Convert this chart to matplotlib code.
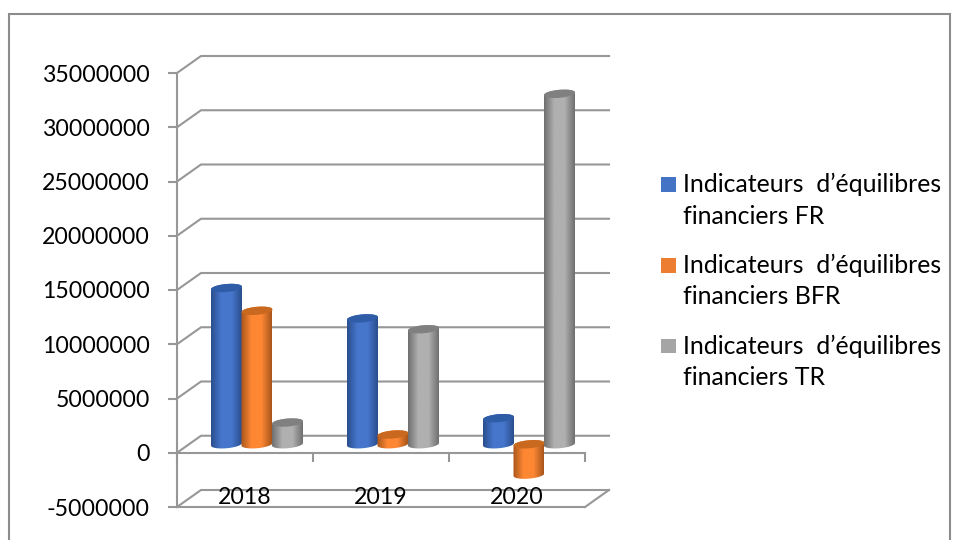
import numpy as np
import matplotlib
matplotlib.use("Agg")
import matplotlib.pyplot as plt
from matplotlib.colors import LinearSegmentedColormap
from matplotlib.patches import Rectangle, Patch, Polygon
from matplotlib.legend_handler import HandlerPatch

W, H = 954, 540

years = ["2018", "2019", "2020"]
series_names = ["Indicateurs  d’équilibres\nfinanciers FR",
                "Indicateurs  d’équilibres\nfinanciers BFR",
                "Indicateurs  d’équilibres\nfinanciers TR"]
fr = [14400000, 11600000, 2400000]
bfr = [12300000, 900000, -2800000]
tr = [2000000, 10600000, 32300000]
y_ticks = [-5000000, 0, 5000000, 10000000, 15000000, 20000000, 25000000, 30000000, 35000000]

# edge, centre, cap
blue = ["#2b4f8e", "#4676cc", "#2f5ca6"]
orange = ["#a9561b", "#fd8733", "#c8691f"]
gray = ["#707070", "#b0b0b0", "#808080"]
legend_colors = ["#4472c4", "#ed7d31", "#a5a5a5"]
LINE = "#979797"

plt.rcParams["font.family"] = ["Lato", "DejaVu Sans"]

fig = plt.figure(figsize=(W / 100, H / 100), dpi=100)
ax = fig.add_axes([177 / W, (H - 507) / H, (585 - 177) / W, (507 - 73) / H])
ax.set_xlim(0, 3)
ax.set_ylim(-5000000, 35000000)

px_x = 3 / (585 - 177)
px_y = 40000000 / (507 - 73)
depth_x = 24 * px_x
depth_y = 17 * px_y

# frame around the whole chart, bottom edge is cut off
fig.add_artist(Rectangle((9 / W, -0.05), (950 - 9) / W, (H - 14) / H + 0.05, transform=fig.transFigure,
                         fill=False, edgecolor="#8c8c8c", linewidth=1.5))

# back wall and left wall lines
for v in y_ticks:
    ax.plot([0, depth_x, 3 + depth_x], [v, v + depth_y, v + depth_y], color=LINE, lw=1.5,
            clip_on=False, zorder=1)
ax.plot([3, 3 + depth_x], [-5000000, -5000000 + depth_y], color=LINE, lw=1.5, clip_on=False, zorder=1)
ax.plot([0, 3], [-5000000, -5000000], color=LINE, lw=1.5, clip_on=False, zorder=1)


def cylinder(xc, value, colors, z):
    w = 31 * px_x
    rx = w / 2
    ry = 4 * px_y
    tilt = 1.3 * px_y
    base = depth_y / 2
    lo = min(value, 0) + base
    hi = max(value, 0) + base
    t = np.linspace(0, np.pi, 40)
    top_x = xc + rx * np.cos(t)
    top_y = hi + ry * np.sin(t) + tilt * np.cos(t)
    bot_x = xc - rx * np.cos(t)
    bot_y = lo - ry * np.sin(t) - tilt * np.cos(t)
    outline = np.column_stack([np.r_[top_x, bot_x], np.r_[top_y, bot_y]])

    grad = LinearSegmentedColormap.from_list("g", [colors[0], colors[1], colors[1], colors[0]])
    im = ax.imshow(np.linspace(0, 1, 64).reshape(1, -1), extent=(xc - rx, xc + rx, lo - 2 * ry, hi + 2 * ry),
                   cmap=grad, aspect="auto", zorder=z, interpolation="bilinear")
    im.set_clip_path(Polygon(outline, closed=True, transform=ax.transData))

    t2 = np.linspace(0, 2 * np.pi, 60)
    cap = np.column_stack([xc + rx * np.cos(t2), hi + ry * np.sin(t2) + tilt * np.cos(t2)])
    ax.add_patch(Polygon(cap, closed=True, facecolor=colors[2], edgecolor="none", zorder=z + 0.1))


all_series = [fr, bfr, tr]
all_colors = [blue, orange, gray]
for i in range(len(years)):
    for s in range(3):
        xc = i + 0.5 + depth_x / 2 + (s - 1) * 30.5 * px_x
        z = 3 + s
        if all_series[s][i] < 0:
            z = 7
        cylinder(xc, all_series[s][i], all_colors[s], z)
ax.set_xlim(0, 3)
ax.set_ylim(-5000000, 35000000)

# axes
for name in ["top", "right"]:
    ax.spines[name].set_visible(False)
ax.spines["left"].set_color(LINE)
ax.spines["left"].set_linewidth(1.5)
ax.spines["bottom"].set_position(("data", 0))
ax.spines["bottom"].set_color(LINE)
ax.spines["bottom"].set_linewidth(1.5)
ax.spines["bottom"].set_zorder(2)
ax.patch.set_visible(False)

ax.set_yticks(y_ticks)
ax.set_yticklabels([str(v) for v in y_ticks])
ax.tick_params(axis="y", length=6.5, width=1.5, color=LINE, pad=13, labelsize=16.7)
for label in ax.get_yticklabels():
    label.set_va("center_baseline")
ax.set_xticks([0, 1, 2, 3])
ax.set_xticklabels([])
ax.set_xticks([0.5, 1.5, 2.5], minor=True)
ax.set_xticklabels(years, minor=True)
ax.tick_params(axis="x", which="major", length=6.5, width=1.5, color=LINE)
ax.tick_params(axis="x", which="minor", length=0, pad=25, labelsize=16.7)


# swatch goes next to the first line of the label, not the last
def swatch(legend, orig_handle, xdescent, ydescent, width, height, fontsize):
    return Rectangle((-xdescent, -ydescent + 12.3), width, width, facecolor=orig_handle.get_facecolor(),
                     edgecolor="none")


handles = [Patch(facecolor=c, label=n) for c, n in zip(legend_colors, series_names)]
leg = fig.legend(handles=handles, loc="upper left", bbox_to_anchor=(661 / W, (H - 173) / H),
                 bbox_transform=fig.transFigure, frameon=False, fontsize=17.9,
                 handlelength=0.6, handleheight=0.6, handletextpad=0.28, labelspacing=1.05,
                 borderpad=0, borderaxespad=0,
                 handler_map={Patch: HandlerPatch(patch_func=swatch)})
for text in leg.get_texts():
    text.set_linespacing(1.44)

fig.savefig("out.png", dpi=100)
